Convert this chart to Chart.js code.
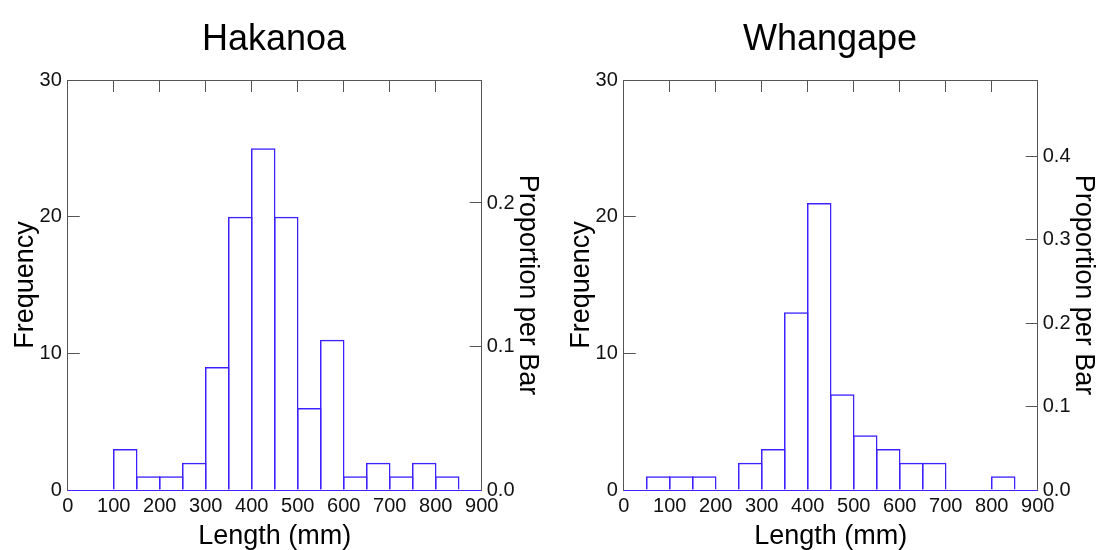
<!DOCTYPE html>
<html>
<head>
<meta charset="utf-8">
<title>Length histograms</title>
<script src="https://cdn.jsdelivr.net/npm/chart.js@4/dist/chart.umd.min.js"></script>
<style>
  body { margin: 0; background: #fff; width: 1099px; height: 550px; overflow: hidden; position: relative; }
  .panel { position: absolute; top: 0; width: 548px; height: 550px; }
</style>
</head>
<body>
<div class="panel" style="left:0"><canvas id="hakanoa" width="548" height="550"></canvas></div>
<div class="panel" style="left:556px"><canvas id="whangape" width="548" height="550"></canvas></div>
<script>
// bins are 50 mm wide, these are the left edges
var binStarts = [0, 50, 100, 150, 200, 250, 300, 350, 400, 450, 500, 550, 600, 650, 700, 750, 800, 850];
var hakanoaCounts = [0, 0, 3, 1, 1, 2, 9, 20, 25, 20, 6, 11, 1, 2, 1, 2, 1, 0];
var whangapeCounts = [0, 1, 1, 1, 0, 2, 3, 13, 21, 7, 4, 3, 2, 2, 0, 0, 1, 0];
var lengthTicks = [0, 100, 200, 300, 400, 500, 600, 700, 800, 900];
var freqTicks = [0, 10, 20, 30];
var binWidth = 50;

var frameColor = "#555555";
var barColor = "#3c22ff";

Chart.defaults.font.family = "'Liberation Sans', Arial, sans-serif";
Chart.defaults.color = "#111111";

function sum(arr) {
  var s = 0;
  for (var i = 0; i < arr.length; i++) s += arr[i];
  return s;
}

function fixedTicks(list) {
  return function(scale) {
    scale.ticks = list.map(function(v) { return { value: v }; });
  };
}

function makeHistogram(canvasId, title, counts) {
  var n = sum(counts);
  var points = [];
  for (var i = 0; i < binStarts.length; i++) {
    points.push({ x: binStarts[i] + binWidth / 2, y: counts[i] });
  }

  return new Chart(document.getElementById(canvasId), {
    type: "bar",
    data: {
      datasets: [
        {
          data: points,
          backgroundColor: "rgba(255,255,255,0)",
          borderColor: barColor,
          borderWidth: 1.5,
          borderSkipped: "bottom",
          inflateAmount: 0,
          // plot is 414px wide -> bins 23px apart; bars overlap by the border width
          barThickness: 24.5
        }
      ]
    },
    options: {
      responsive: false,
      animation: false,
      devicePixelRatio: 1,
      layout: { padding: 0 },
      plugins: {
        legend: { display: false },
        tooltip: { enabled: false },
        title: {
          display: true,
          text: title,
          color: "#000",
          font: { size: 36, weight: "normal", lineHeight: 1.2 },
          padding: { top: 18, bottom: 18.8 }
        }
      },
      scales: {
        x: {
          type: "linear",
          position: "bottom",
          min: 0,
          max: 900,
          offset: false,
          afterBuildTicks: fixedTicks(lengthTicks),
          afterFit: function(scale) { scale.height = 60; },
          ticks: { font: { size: 20 }, padding: 4, maxRotation: 0, autoSkip: false },
          grid: { offset: false, drawOnChartArea: false, drawTicks: false },
          border: { color: barColor, width: 1 },
          title: {
            display: true,
            text: "Length (mm)",
            color: "#000",
            font: { size: 27, lineHeight: 1 },
            padding: { top: 0, bottom: 0 }
          }
        },
        xTop: {
          type: "linear",
          position: "top",
          min: 0,
          max: 900,
          offset: false,
          afterBuildTicks: fixedTicks(lengthTicks),
          afterFit: function(scale) { scale.height = 0; },
          ticks: { display: false },
          grid: { offset: false, drawOnChartArea: false, drawTicks: true, tickLength: -12, color: frameColor },
          border: { color: frameColor, width: 1 }
        },
        y: {
          position: "left",
          min: 0,
          max: 30,
          afterBuildTicks: fixedTicks(freqTicks),
          afterFit: function(scale) { scale.width = 67.75; },
          ticks: { font: { size: 20 }, padding: 18 },
          grid: { drawOnChartArea: false, drawTicks: true, tickLength: -12, color: frameColor },
          border: { color: frameColor, width: 1 },
          title: {
            display: true,
            text: "Frequency",
            color: "#000",
            font: { size: 27, lineHeight: 1 },
            padding: { top: 12 }
          }
        },
        yProp: {
          position: "right",
          min: 0,
          max: 30 / n,
          afterBuildTicks: function(scale) {
            var out = [];
            for (var v = 0; v <= scale.max + 1e-9; v += 0.1) {
              out.push({ value: Math.round(v * 10) / 10 });
            }
            scale.ticks = out;
          },
          afterFit: function(scale) { scale.width = 66.25; },
          ticks: {
            font: { size: 20 },
            padding: 17,
            callback: function(v) { return Number(v).toFixed(1); }
          },
          grid: { drawOnChartArea: false, drawTicks: true, tickLength: -12, color: frameColor },
          border: { color: frameColor, width: 1 },
          title: {
            display: true,
            text: "Proportion per Bar",
            color: "#000",
            font: { size: 27, lineHeight: 1 },
            padding: { top: 7 }
          }
        }
      }
    }
  });
}

makeHistogram("hakanoa", "Hakanoa", hakanoaCounts);
makeHistogram("whangape", "Whangape", whangapeCounts);
</script>
</body>
</html>
